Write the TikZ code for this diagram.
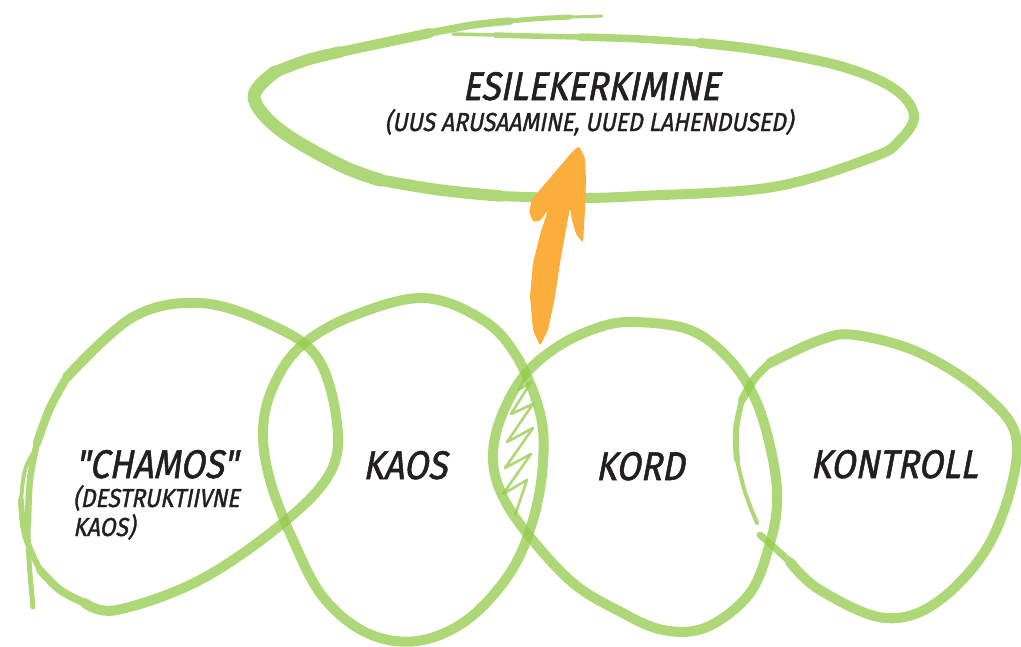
\documentclass[tikz,border=0pt]{standalone}
\usepackage{fontspec}
\setmainfont{Fira Sans}
\newfontfamily\handfont{Fira Sans}[FakeSlant=0.22,FakeBold=1.4]
\usepackage{graphicx}
\definecolor{leaf}{RGB}{147,203,75}
\definecolor{ink}{RGB}{35,31,32}
\definecolor{amber}{RGB}{251,174,60}
\newcommand{\hnarrow}[2][0.88]{\scalebox{#1}[1]{#2}}
\begin{document}
\begin{tikzpicture}[x=1pt,y=-1pt,
  loopgroup/.style={transparency group,opacity=0.75},
  loopline/.style={draw=leaf,line width=10pt,line cap=round,line join=round},
  w/.style={loopline,line width=#1pt},
  hatchline/.style={draw=leaf,line width=2.6pt,line cap=round,line join=round},
  big/.style={text=ink,inner sep=0pt,anchor=base,font=\handfont\fontsize{40}{40}\selectfont},
  small/.style={text=ink,inner sep=0pt,anchor=base,font=\handfont\fontsize{26}{26}\selectfont},
  smallw/.style={text=ink,inner sep=0pt,anchor=base west,font=\handfont\fontsize{26}{26}\selectfont},
  bigw/.style={text=ink,inner sep=0pt,anchor=base west,font=\handfont\fontsize{40}{40}\selectfont}]
\useasboundingbox (0,0) rectangle (1021,646);

% top ellipse
\begin{scope}[loopgroup]
\draw[w=3.5] plot[smooth,tension=0.6] coordinates {(453,34) (475,34.5) (495,35)};
\draw[w=5.5] plot[smooth,tension=0.6] coordinates {(495,35) (530,36) (580,37)};
\draw[w=7.5] plot[smooth,tension=0.6] coordinates {(580,37) (640,39) (700,43)};
\draw[w=10] plot[smooth,tension=0.6] coordinates {(700,43) (760,50) (840,66) (893,88) (914,115) (900,140) (873,157) (773,187) (640,196) (573,198) (500,196)};
\draw[w=11.5] plot[smooth,tension=0.6] coordinates {(500,196) (440,190) (380,180)};
\draw[w=13] plot[smooth,tension=0.6] coordinates {(380,180) (340,165) (280,130) (254,97) (275,72)};
\draw[w=11.5] plot[smooth,tension=0.6] coordinates {(275,72) (307,60) (340,52)};
\draw[w=10] plot[smooth,tension=0.6] coordinates {(340,52) (373,45) (430,33)};
\draw[w=7.5] plot[smooth,tension=0.6] coordinates {(430,33) (473,25) (510,21)};
\draw[w=5] plot[smooth,tension=0.6] coordinates {(510,21) (540,18.5) (570,17)};
\draw[w=3] plot[smooth,tension=0.6] coordinates {(570,17) (590,16.5) (602,16)};
\end{scope}

% CHAMOS loop
\begin{scope}[loopgroup]
\draw[w=5] plot[smooth,tension=0.6] coordinates {(33,607) (29,560) (28,523)};
\draw[w=6.5] plot[smooth,tension=0.6] coordinates {(28,523) (30,480) (37,443)};
\draw[w=8.5] plot[smooth,tension=0.6] coordinates {(37,443) (50,408) (67,377)};
\draw[w=10] plot[smooth,tension=0.6] coordinates {(67,377) (133,317) (200,303) (267,323) (317,357) (337,423) (330,473) (283,523) (200,580) (117,610) (85,603)};
\draw[w=8] plot[smooth,tension=0.6] coordinates {(85,603) (60,590) (40,570)};
\draw[w=6] plot[smooth,tension=0.6] coordinates {(40,570) (25,535) (21,500)};
\draw[w=4] plot[smooth,tension=0.6] coordinates {(21,500) (25,470) (35,450)};
\end{scope}

% KAOS loop
\begin{scope}[loopgroup]
\draw[w=10] plot[smooth cycle,tension=0.6] coordinates {(423,298) (483,320) (517,357) (540,413) (543,463) (533,520) (510,573) (467,620) (417,641) (367,633) (323,597) (293,540) (270,480) (263,430) (273,387) (300,347) (350,317)};
\end{scope}

% KORD loop
\begin{scope}[loopgroup]
\draw[w=10] plot[smooth cycle,tension=0.6] coordinates {(633,322) (690,330) (730,360) (757,403) (773,460) (777,503) (770,543) (750,593) (707,627) (663,630) (617,610) (573,583) (530,537) (503,497) (493,460) (500,420) (523,377) (557,347) (597,328)};
\end{scope}

% KONTROLL loop
\begin{scope}[loopgroup]
\draw[w=10] plot[smooth,tension=0.6] coordinates {(770,363) (820,340) (855,335) (920,353) (985,395) (1017,445) (993,537) (940,600) (885,618) (820,590) (790,562)};
\draw[w=7] plot[smooth,tension=0.6] coordinates {(790,562) (775,548) (760,535)};
\draw[w=8] plot[smooth,tension=0.6] coordinates {(742,400) (755,378) (770,363)};
\draw[w=6] plot[smooth,tension=0.6] coordinates {(737,460) (736,430) (742,400)};
\draw[w=4] plot[smooth,tension=0.6] coordinates {(757,523) (745,492) (737,460)};
\end{scope}

% hatching
\begin{scope}[loopgroup]
\draw[hatchline] (515,515) -- (527,480) -- (503,494) -- (531,454) -- (505,468) -- (533,428) -- (507,442) -- (533,404) -- (511,414) -- (531,382) -- (518,390) -- (528,372);
\end{scope}

% arrow
\fill[amber,rounded corners=2.5pt] (579,146) -- (585,158) -- (586,180) -- (585,210) -- (583,243) -- (576,234) -- (572,220) -- (570,208) -- (565,235) -- (560,263) -- (555,297) -- (548,330) -- (540,346) -- (533,330) -- (530,297) -- (533,263) -- (540,235) -- (548,210) -- (540,221) -- (533,222) -- (529,212) -- (532,199) -- (550,178) -- (572,152) -- cycle;

% texts
\node[big] (esile) at (591,100) {\hnarrow{ESILEKERKIMINE}};
\node[small] (esilesub) at (589,131) {\hnarrow{(UUS ARUSAAMINE, UUED LAHENDUSED)}};
\node[bigw] (chamos) at (75,478) {\hnarrow{"CHAMOS"}};
\node[smallw] (chamos2) at (73,507) {\hnarrow{(DESTRUKTIIVNE}};
\node[smallw] (chamos3) at (73,536) {\hnarrow{KAOS)}};
\node[big] (kaos) at (405,479) {\hnarrow{KAOS}};
\node[big] (kord) at (640,480) {\hnarrow{KORD}};
\node[big] (kontroll) at (894,478) {\hnarrow{KONTROLL}};
\end{tikzpicture}
\end{document}
